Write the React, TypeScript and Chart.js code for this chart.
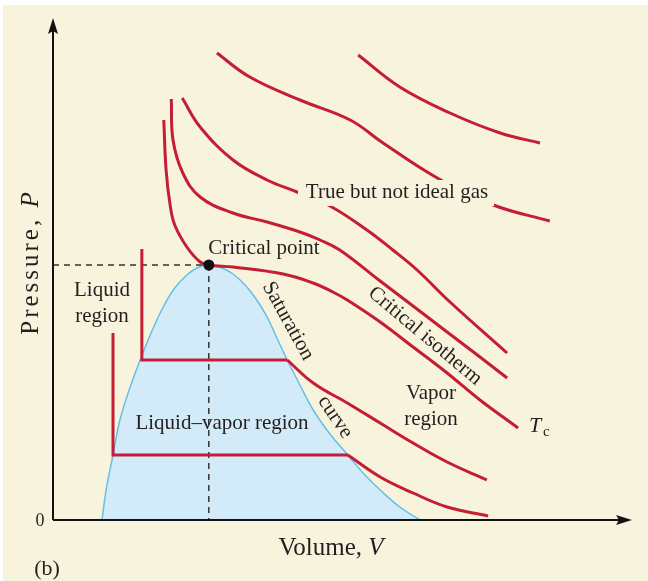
import { useEffect, useRef } from "react";
import { Chart, registerables } from "chart.js";

Chart.register(...registerables);

// Saturation (coexistence) dome
const saturationV = [8.5, 9.2, 10.4, 11.6, 13.2, 15.1, 17.0, 19.1, 21.1, 23.2, 25.1, 27.0, 29.1, 31.2, 33.3, 35.2, 37.1, 38.8, 40.6, 42.8, 45.1, 48.0, 51.1, 53.9, 56.7, 60.1, 63.6];
const saturationP = [0, 6, 13, 20, 26, 32, 37.4, 42.6, 46.4, 49, 50.5, 51, 50.5, 49.2, 47, 44.2, 40.6, 36.4, 32, 27, 22, 17.2, 13, 9.2, 6, 2.6, 0];

// Critical point
const criticalV = 27.0;
const criticalP = 51;

// Sub-critical isotherm (upper): liquid branch, plateau, vapor branch
const isoUpperLiquidV = [15.4, 15.4];
const isoUpperLiquidP = [54.2, 32];
const isoUpperVaporV = [40.6, 45.1, 51.0, 56.7, 62.4, 68.3, 75.2];
const isoUpperVaporP = [32, 27.4, 23.4, 19.4, 15.4, 11.6, 8];

// Sub-critical isotherm (lower)
const isoLowerLiquidV = [10.4, 10.4];
const isoLowerLiquidP = [37.4, 13];
const isoLowerVaporV = [51.1, 56.7, 62.4, 68.3, 75.4];
const isoLowerVaporP = [13, 8.6, 5.4, 2.6, 0.8];

// Critical isotherm Tc
const tcV = [19.2, 19.6, 20.3, 21.1, 23.2, 25.5, 27.0, 31.2, 39.9, 45.1, 48.5, 51.0, 56.7, 62.4, 68.3, 74.0, 80.6];
const tcP = [80, 70, 63, 59, 54.6, 51.6, 51, 50.6, 49.2, 47.4, 45.6, 44, 39.6, 34.6, 29.4, 24, 18.4];

// Super-critical isotherms (real, non-ideal gas)
const gasAV = [20.5, 20.8, 22.5, 25.5, 31.2, 37.1, 42.8, 46.3, 49.7, 56.7, 62.4, 68.3, 74.0, 78.7];
const gasAP = [84.2, 76, 69.4, 64.6, 61.4, 59.6, 57.6, 56, 54, 47.8, 42.8, 37.6, 32.6, 28.4];
const gasBV = [22.4, 25.5, 31.2, 37.1, 42.3, 48.0, 54.4, 58.9, 63.1, 68.8, 78.7];
const gasBP = [84.4, 78.6, 72, 68, 65.6, 62.8, 58, 54, 50, 43.6, 33.4];
const gasCV = [28.4, 34.1, 42.8, 51.5, 57.2, 66.6, 76.3, 86.1];
const gasCP = [93.4, 88.6, 84, 80, 75.4, 68.4, 63, 59.8];
const gasDV = [52.9, 60.1, 68.8, 77.5, 84.4];
const gasDP = [93, 86.6, 81.4, 77.4, 75.4];

const RED = "#c51d34";
const BLUE_LINE = "#62c0ea";
const BLUE_FILL = "#d3ebf8";
const CREAM = "#f8f3dc";
const INK = "#231f20";
const SERIF = "'Liberation Serif', 'DejaVu Serif', serif";

const pts = (v: number[], p: number[]) => v.map((x, i) => ({ x, y: p[i] }));

const redCurve = (v: number[], p: number[], smooth = true) => ({
  data: pts(v, p),
  borderColor: RED,
  borderWidth: 3,
  pointRadius: 0,
  fill: false,
  tension: smooth ? 0.4 : 0,
  order: 1,
});

const decorations = {
  id: "decorations",
  beforeDraw(chart: any) {
    const { ctx, width, height } = chart;
    ctx.save();
    ctx.fillStyle = "#ffffff";
    ctx.fillRect(0, 0, width, height);
    ctx.fillStyle = CREAM;
    ctx.fillRect(3, 5, width - 3, height - 5);
    ctx.restore();
  },
  afterDatasetsDraw(chart: any) {
    const { ctx } = chart;
    const xs = chart.scales.x;
    const ys = chart.scales.y;
    const X = (v: number) => xs.getPixelForValue(v);
    const Y = (p: number) => ys.getPixelForValue(p);
    const x0 = X(0);
    const y0 = Y(0);
    const xEnd = X(100);
    const yTop = Y(100);

    ctx.save();
    // axes
    ctx.strokeStyle = "#111";
    ctx.lineWidth = 2;
    ctx.beginPath();
    ctx.moveTo(x0, y0);
    ctx.lineTo(x0, yTop + 10);
    ctx.moveTo(x0, y0);
    ctx.lineTo(xEnd - 10, y0);
    ctx.stroke();
    ctx.fillStyle = "#111";
    ctx.beginPath();
    ctx.moveTo(x0, yTop - 2);
    ctx.lineTo(x0 - 5, yTop + 14);
    ctx.lineTo(x0, yTop + 11);
    ctx.lineTo(x0 + 5, yTop + 14);
    ctx.closePath();
    ctx.fill();
    ctx.beginPath();
    ctx.moveTo(xEnd + 2, y0);
    ctx.lineTo(xEnd - 14, y0 - 5);
    ctx.lineTo(xEnd - 11, y0);
    ctx.lineTo(xEnd - 14, y0 + 5);
    ctx.closePath();
    ctx.fill();

    // critical point marker
    ctx.beginPath();
    ctx.arc(X(criticalV), Y(criticalP), 5.5, 0, Math.PI * 2);
    ctx.fill();

    const text = (s: string, x: number, y: number, size = 21, rot = 0, style = "", spacing = 0) => {
      ctx.save();
      ctx.translate(x, y);
      ctx.rotate((rot * Math.PI) / 180);
      ctx.font = `${style} ${size}px ${SERIF}`;
      (ctx as any).letterSpacing = `${spacing}px`;
      ctx.fillStyle = INK;
      ctx.textAlign = "center";
      ctx.textBaseline = "middle";
      ctx.fillText(s, 0, 0);
      ctx.restore();
    };

    // mixed roman + italic label, centred on (x, y)
    const axisLabel = (roman: string, ital: string, x: number, y: number, size: number, rot: number, spacing = 0) => {
      ctx.save();
      ctx.translate(x, y);
      ctx.rotate((rot * Math.PI) / 180);
      ctx.fillStyle = INK;
      ctx.textBaseline = "middle";
      ctx.textAlign = "left";
      (ctx as any).letterSpacing = `${spacing}px`;
      ctx.font = `${size}px ${SERIF}`;
      const w1 = ctx.measureText(roman).width;
      ctx.font = `italic ${size}px ${SERIF}`;
      const w2 = ctx.measureText(ital).width;
      const start = -(w1 + w2) / 2;
      ctx.font = `${size}px ${SERIF}`;
      ctx.fillText(roman, start, 0);
      ctx.font = `italic ${size}px ${SERIF}`;
      ctx.fillText(ital, start + w1, 0);
      ctx.restore();
    };

    // label sitting on top of the gas isotherms
    ctx.fillStyle = CREAM;
    ctx.fillRect(298, 180, 196, 26);
    text("True but not ideal gas", 397, 192);

    text("Critical point", 264, 248);
    text("Liquid", 102, 290);
    text("region", 102, 316);
    text("Liquid\u2013vapor region", 222, 423);
    text("Vapor", 431, 393);
    text("region", 431, 419);
    text("Saturation", 288, 321, 21, 61);
    text("curve", 335, 417, 21, 56);
    text("Critical isotherm", 425, 336, 21, 40);

    // Tc
    ctx.fillStyle = INK;
    ctx.textAlign = "left";
    ctx.textBaseline = "alphabetic";
    ctx.font = `italic 22px ${SERIF}`;
    ctx.fillText("T", 529, 432);
    ctx.font = `15px ${SERIF}`;
    ctx.fillText("c", 543, 436);

    // axis labels
    text("0", 40, 521, 18);
    axisLabel("Volume, ", "V", 331, 548, 25, 0);
    axisLabel("Pressure, ", "P", 31, 262, 25, -90, 3);
    text("(b)", 47, 569, 22);
    ctx.restore();
  },
};

export default function App() {
  const ref = useRef<HTMLCanvasElement>(null);

  useEffect(() => {
    if (!ref.current) return;
    const chart = new Chart(ref.current, {
      type: "line",
      data: {
        datasets: [
          {
            data: pts(saturationV, saturationP),
            borderColor: BLUE_LINE,
            backgroundColor: BLUE_FILL,
            borderWidth: 1.5,
            pointRadius: 0,
            fill: "origin",
            tension: 0.4,
            order: 10,
          } as any,
          {
            data: [
              { x: 0, y: criticalP },
              { x: criticalV, y: criticalP },
            ],
            borderColor: "#333",
            borderWidth: 1.5,
            borderDash: [6, 5],
            pointRadius: 0,
            fill: false,
            order: 5,
          },
          {
            data: [
              { x: criticalV, y: criticalP },
              { x: criticalV, y: 0 },
            ],
            borderColor: "#333",
            borderWidth: 1.5,
            borderDash: [6, 5],
            pointRadius: 0,
            fill: false,
            order: 5,
          },
          redCurve(
            [...isoUpperLiquidV, ...isoUpperVaporV.slice(0, 1)],
            [...isoUpperLiquidP, ...isoUpperVaporP.slice(0, 1)],
            false
          ),
          redCurve(isoUpperVaporV, isoUpperVaporP),
          redCurve(
            [...isoLowerLiquidV, ...isoLowerVaporV.slice(0, 1)],
            [...isoLowerLiquidP, ...isoLowerVaporP.slice(0, 1)],
            false
          ),
          redCurve(isoLowerVaporV, isoLowerVaporP),
          redCurve(tcV, tcP),
          redCurve(gasAV, gasAP),
          redCurve(gasBV, gasBP),
          redCurve(gasCV, gasCP),
          redCurve(gasDV, gasDP),
        ] as any,
      },
      options: {
        animation: false,
        responsive: false,
        devicePixelRatio: 1,
        parsing: false,
        layout: { padding: { left: 53, right: 18, top: 20, bottom: 61 } },
        plugins: { legend: { display: false }, tooltip: { enabled: false } },
        scales: {
          x: { type: "linear", min: 0, max: 100, display: false },
          y: { type: "linear", min: 0, max: 100, display: false },
        },
      } as any,
      plugins: [decorations],
    });
    return () => chart.destroy();
  }, []);

  return (
    <div style={{ position: "fixed", left: 0, top: 0, width: 648, height: 581 }}>
      <canvas ref={ref} width={648} height={581} style={{ display: "block" }} />
    </div>
  );
}
